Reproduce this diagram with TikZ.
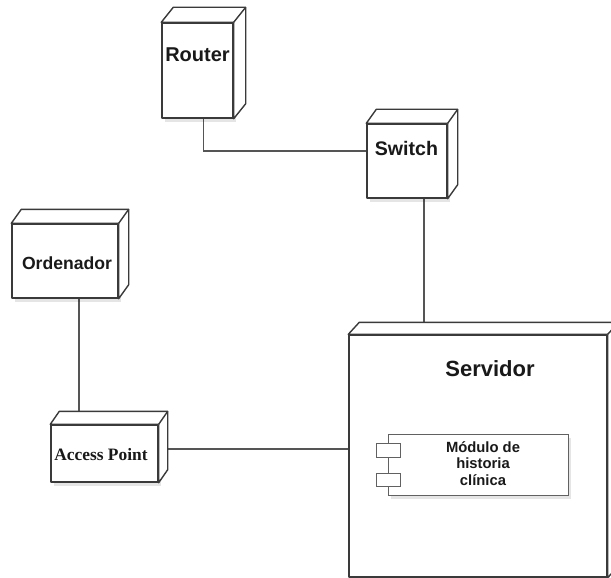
\documentclass[tikz,border=0pt]{standalone}
\usepackage{fontspec}
\setmainfont{Liberation Serif}
\setsansfont{Liberation Sans}
\usetikzlibrary{calc,shadows,backgrounds}

\definecolor{borde}{HTML}{3A3A3A}
\definecolor{cablegris}{HTML}{555555}

\tikzset{
  caja/.style={draw=borde, line width=1.4pt, fill=white, inner sep=0pt, line join=round},
  sombra/.style={drop shadow={shadow xshift=3pt, shadow yshift=-4pt, fill=black, opacity=0.10}},
  etiqueta/.style={font=\sffamily\bfseries\fontsize{20}{22}\selectfont, text=black!90, inner sep=0pt},
  componente/.style={draw=borde!80, line width=1pt, fill=white, inner sep=0pt},
  cable/.style={draw=cablegris, line width=1.1pt},
}

% caras superior y lateral de un nodo: nombre, dx, dy
\newcommand{\caras}[3]{%
  \draw[caja] (#1.north west) -- ++(#2,-#3) -- ($(#1.north east)+(#2,-#3)$)
    -- ($(#1.south east)+(#2,-#3)$) -- (#1.south east) -- (#1.north east) -- cycle;
  \draw[caja] (#1.north east) -- ++(#2,-#3);
}

\begin{document}
\begin{tikzpicture}[x=1pt, y=-1pt]
  \useasboundingbox (0,0) rectangle (611,578);

  % Nodos
  \node[caja, sombra, minimum width=71, minimum height=95] (router) at (197.5,70.5) {};
  \caras{router}{12}{15}
  \node[etiqueta] (router-txt) at (197.5,55) {Router};

  \node[caja, sombra, minimum width=80, minimum height=74] (switch) at (407,161) {};
  \caras{switch}{10}{14}
  \node[etiqueta, font=\sffamily\bfseries\fontsize{19.6}{22}\selectfont] (switch-txt) at (406.5,148) {Switch};

  \node[caja, sombra, minimum width=106, minimum height=74] (ordenador) at (65,261) {};
  \caras{ordenador}{10}{14}
  \node[etiqueta, font=\sffamily\bfseries\fontsize{17.6}{20}\selectfont] (ordenador-txt) at (67,263) {Ordenador};

  \node[caja, sombra, minimum width=107, minimum height=57] (acceso) at (104.5,453.5) {};
  \caras{acceso}{9}{13}
  \node[etiqueta, font=\rmfamily\bfseries\fontsize{17.4}{19}\selectfont] (acceso-txt) at (101,455) {Access Point};

  \node[caja, sombra, minimum width=258, minimum height=242] (servidor) at (478,456) {};
  \caras{servidor}{11}{12}
  \node[etiqueta, font=\sffamily\bfseries\fontsize{22}{24}\selectfont] (servidor-txt) at (490,369) {Servidor};

  % Componente
  \node[componente, sombra, minimum width=180, minimum height=61] (modulo) at (478,464.5) {};
  \node[componente, minimum width=24, minimum height=14] (pestana1) at (388,450) {};
  \node[componente, minimum width=24, minimum height=13] (pestana2) at (388,479.5) {};
  \node[etiqueta, font=\sffamily\bfseries\fontsize{14.8}{16.5}\selectfont, align=center] (modulo-txt) at (483,463.5) {M\'odulo de\\historia\\cl\'inica};

  % Conexiones
  \begin{scope}[on background layer]
    \draw[cable] ([xshift=6]router.south) |- ([yshift=10]switch.west);
    \draw[cable] ([xshift=17]switch.south) -- ([xshift=17]switch.south |- servidor.north);
    \draw[cable] ([xshift=14]ordenador.south) -- ([xshift=14]ordenador.south |- acceso.north);
    \draw[cable] ([yshift=4.5]acceso.east) -- ([yshift=4.5]acceso.east -| servidor.west);
  \end{scope}
\end{tikzpicture}
\end{document}
